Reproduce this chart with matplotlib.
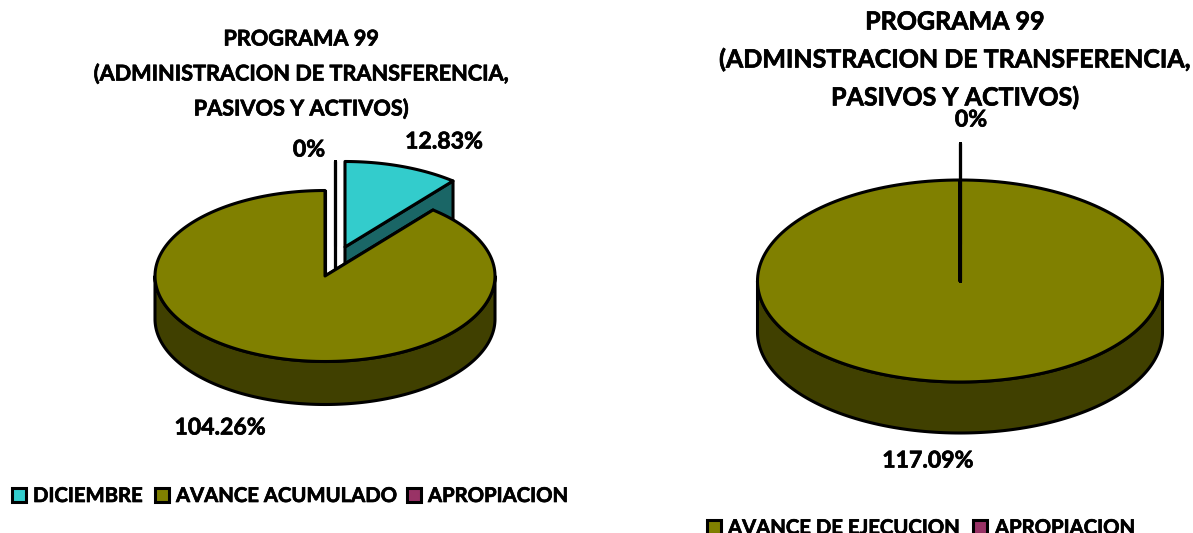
import numpy as np
import matplotlib
matplotlib.use('Agg')
import matplotlib.pyplot as plt
import matplotlib.patheffects as pe
from matplotlib.patches import Polygon, Rectangle

plt.rcParams['font.family'] = ['Lato', 'DejaVu Sans']

# left pie
left_names = ['DICIEMBRE', 'AVANCE ACUMULADO', 'APROPIACION']
left_values = [12.83, 104.26, 0]
left_title = 'PROGRAMA 99\n(ADMINISTRACION DE TRANSFERENCIA,\nPASIVOS Y ACTIVOS)'

# right pie
right_names = ['AVANCE DE EJECUCION', 'APROPIACION']
right_values = [117.09, 0]
right_title = 'PROGRAMA 99\n(ADMINSTRACION DE TRANSFERENCIA,\nPASIVOS Y ACTIVOS)'

TEAL = '#33CCCC'
OLIVE = '#808000'
PURPLE = '#993366'
TEAL_DARK = '#1A6666'
OLIVE_DARK = '#404000'

# makes the bold a bit heavier, closer to the reference
HEAVY = [pe.withStroke(linewidth=0.5, foreground='black')]


def rim(cx, cy, rx, ry, a0, a1):
    # angles in degrees, clockwise from the top of the pie
    t = np.radians(np.linspace(a0, a1, 200))
    return np.column_stack([cx + rx * np.sin(t), cy - ry * np.cos(t)])


def draw_wedge(ax, cx, cy, rx, ry, depth, a0, a1, color, dark, z):
    edge = dict(edgecolor='black', linewidth=2.2, joinstyle='round')
    # cut faces seen from the front
    for a in (a0, a1):
        p = rim(cx, cy, rx, ry, a, a)[0]
        wall = [(cx, cy), p, (p[0], p[1] + depth), (cx, cy + depth)]
        ax.add_patch(Polygon(wall, facecolor=dark, zorder=z, **edge))
    # outer wall, lower half of the ellipse only
    lo, hi = max(a0, 90), min(a1, 270)
    if hi > lo:
        top = rim(cx, cy, rx, ry, lo, hi)
        bottom = top[::-1] + [0, depth]
        ax.add_patch(Polygon(np.vstack([top, bottom]), facecolor=dark, zorder=z, **edge))
    face = np.vstack([[(cx, cy)], rim(cx, cy, rx, ry, a0, a1)])
    ax.add_patch(Polygon(face, facecolor=color, zorder=z + 0.5, **edge))


def label(ax, x, y, s, size=16.6, ls=1.2):
    ax.text(x, y, s, fontsize=size, fontweight='bold', ha='center', va='center',
            linespacing=ls, zorder=5, path_effects=HEAVY)


def legend_row(ax, names, colors, box_x, text_x, y, size):
    for name, color, bx, tx in zip(names, colors, box_x, text_x):
        ax.add_patch(Rectangle((bx, y - 8), 14, 14, facecolor=color, edgecolor='black', linewidth=2.2))
        ax.text(tx, y, name, fontsize=size, fontweight='bold', va='center', ha='left', path_effects=HEAVY)


fig = plt.figure(figsize=(11.93, 5.33), dpi=100)
ax = fig.add_axes([0, 0, 1, 1])
ax.set_xlim(0, 1193)
ax.set_ylim(533, 0)
ax.axis('off')

# left chart
cx, cy, rx, ry, depth = 325, 276, 170, 85.5, 43
sweep = np.array(left_values) / sum(left_values) * 360
draw_wedge(ax, cx + 10, cy - 30, rx, ry, depth, 0, 0, PURPLE, PURPLE, 1)
draw_wedge(ax, cx + 20, cy - 29, rx, ry, depth, 0, sweep[0], TEAL, TEAL_DARK, 2)
draw_wedge(ax, cx, cy, rx, ry, depth, sweep[0], sweep[0] + sweep[1], OLIVE, OLIVE_DARK, 3)

label(ax, 301, 74, left_title, size=15.6, ls=1.75)
label(ax, 444, 142, f'{left_values[0]:.2f}%')
label(ax, 220, 428, f'{left_values[1]:.2f}%')
label(ax, 309, 150, f'{left_values[2]:.0f}%')
legend_row(ax, left_names, [TEAL, OLIVE, PURPLE], [12, 155, 407], [33, 176, 428], 496, 14.6)

# right chart
cx, cy, rx, ry, depth = 960, 281, 202.5, 101, 51
sweep = np.array(right_values) / sum(right_values) * 360
draw_wedge(ax, cx, cy, rx, ry, depth, 0, sweep[0], OLIVE, OLIVE_DARK, 1)
draw_wedge(ax, cx, cy - 37, rx, ry, 37, 0, sweep[1], PURPLE, PURPLE, 3)

label(ax, 955, 60, right_title, size=18, ls=1.74)
label(ax, 971, 120, f'{right_values[1]:.0f}%')
label(ax, 928, 461, f'{right_values[0]:.2f}%')
# the reference cuts this legend off at the bottom edge as well
legend_row(ax, right_names, [OLIVE, PURPLE], [707, 973], [728, 995], 528, 14.6)

fig.savefig('out.png', dpi=100)
